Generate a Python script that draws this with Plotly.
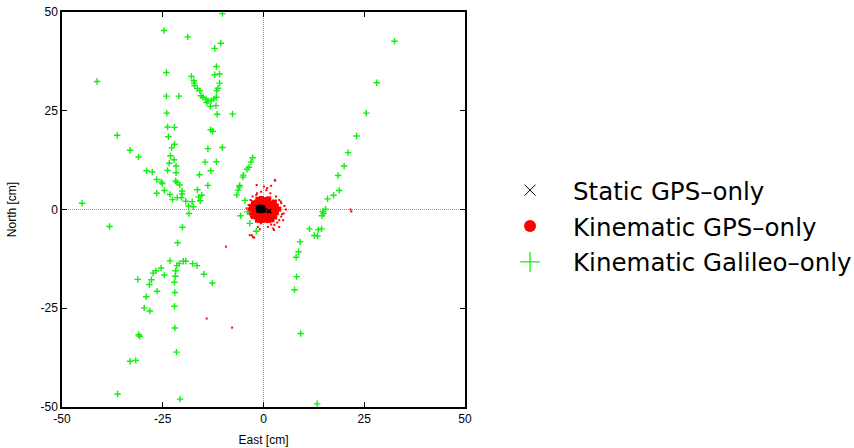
import plotly.graph_objects as go

# Kinematic Galileo-only (East, North) [cm]
gal_e = [-10.2, -24.7, -18.8, -10.6, -12.1, -41.3, -24.1, -11.7, -12.1, -10.9,
         -17.9, -17.3, -17.2, -17.1, -16.4, -15.8, -10.9, -11.3, -11.6, -15.5,
         -15.0, -14.3, -13.8, -13.0, -12.3, -11.7, -14.1, -13.2, -11.8, -11.5,
         -24.1, -21.0, -7.7, -24.0, -23.8, -22.1, -36.3, -23.6, -13.1, -12.6,
         -33.1, -31.0, -22.8, -22.1, -13.8, -10.2, -23.1, -22.2, -23.4, -21.7,
         -21.7, -23.8, -14.5, -11.7, -29.0, -27.6, -13.1, -15.9, -26.5, -25.4,
         -25.1, -21.8, -21.4, -20.8, -13.8, -26.5, -24.6, -23.2, -20.2, -20.2,
         -16.4, -22.6, -21.4, -20.4, -19.3, -18.6, -17.4, -17.7, -16.1, -15.3,
         -15.7, -18.5, -45.0, -38.2, -20.1, -21.3, -2.7, -3.1, -3.6, -4.1,
         -5.0, -5.1, -5.9, -6.0, -6.3, -6.6, -4.6, -5.7, -3.4, -1.8,
         -4.0, -23.2, -21.5, -20.9, -19.9, -19.3, -17.6, -16.5, -14.8, -12.7,
         -25.4, -26.7, -27.4, -24.6, -21.8, -21.9, -22.1, -31.2, -27.8, -28.3,
         -26.4, -22.0, -29.1, -22.1, -29.6, -28.2, -22.0, -31.0, -30.7, -21.6,
         -33.1, -31.7, -36.2, -20.7, 32.5, 28.1, 25.5, 23.1, 21.0, 20.0,
         18.5, 18.8, 17.4, 15.9, 15.4, 14.7, 14.9, 14.5, 11.4, 13.6,
         14.4, 12.6, 13.4, 9.1, 8.7, 8.1, 8.2, 7.7, 9.2, 13.3]
gal_n = [49.6, 45.3, 43.7, 42.1, 40.8, 32.4, 34.7, 36.2, 34.1, 34.3,
         33.7, 32.6, 32.0, 31.4, 30.6, 30.1, 32.0, 30.7, 30.1, 28.8,
         28.4, 28.0, 27.5, 27.6, 28.0, 28.4, 27.1, 26.1, 26.3, 24.1,
         28.7, 28.7, 24.2, 24.4, 20.9, 20.8, 18.8, 18.4, 20.2, 19.8,
         15.0, 13.3, 15.6, 16.5, 15.4, 15.7, 13.6, 12.6, 11.7, 11.0,
         9.3, 9.9, 12.0, 12.1, 9.8, 9.5, 9.8, 8.8, 7.6, 7.0,
         6.6, 7.2, 6.8, 6.2, 6.1, 4.1, 4.8, 3.8, 4.7, 4.0,
         5.0, 2.5, 3.0, 3.0, 2.1, 0.9, 0.7, 2.0, 3.2, 3.6,
         2.2, -1.0, 1.6, -4.3, -4.5, -8.4, 13.1, 12.0, 10.7, 10.2,
         8.7, 8.2, 6.1, 5.7, 4.9, 3.7, 2.3, -1.6, -3.5, -5.5,
         -0.6, -13.0, -14.2, -13.7, -13.1, -13.1, -13.7, -14.2, -16.4, -18.6,
         -14.8, -15.5, -16.1, -16.6, -15.5, -16.9, -18.4, -17.7, -17.8, -19.0,
         -20.7, -21.0, -22.1, -24.5, -24.9, -25.7, -30.0, -31.7, -32.1, -36.1,
         -38.4, -38.2, -46.7, -48.0, 42.6, 32.1, 24.4, 18.6, 14.4, 11.0,
         8.6, 4.8, 3.6, 2.7, 0.1, -0.5, -1.0, -1.6, -4.9, -5.1,
         -4.9, -6.6, -6.7, -8.2, -10.7, -12.1, -17.0, -20.3, -31.4, -49.2]

# Kinematic GPS-only: dense core of the cloud
gps_core_e = [-1.4, -0.5, 0.4, 1.3,
              -2.5, -1.6, -0.7, 0.2, 1.1, 2.0, 2.7,
              -3.0, -2.1, -1.2, -0.3, 0.6, 1.5, 2.4, 3.2,
              -3.3, -2.4, -1.5, -0.6, 0.3, 1.2, 2.1, 3.0, 3.8,
              -3.0, -2.2, -1.3, -0.4, 0.5, 1.4, 2.3, 3.2,
              -2.5, -1.6, -0.7, 0.2, 1.1, 2.0, 2.8,
              -1.5, -0.6, 0.3, 1.2, 2.1]
gps_core_n = [2.6, 2.8, 2.5, 2.7,
              1.7, 1.9, 1.6, 1.8, 1.9, 1.6, 1.9,
              0.8, 1.0, 0.7, 0.9, 0.8, 1.0, 0.7, 0.9,
              -0.1, 0.1, -0.1, 0.0, 0.1, -0.1, 0.1, -0.2, 0.1,
              -0.9, -1.0, -0.8, -0.9, -1.0, -0.8, -1.0, -0.8,
              -1.8, -1.9, -1.7, -1.8, -1.9, -1.7, -1.9,
              -2.7, -2.8, -2.6, -2.8, -2.6]
# Kinematic GPS-only: scattered epochs
gps_e = [2.9, 0.1, 0.9, 1.9, -0.6, -1.6, 1.7, 3.1, 3.9, 4.4,
         5.2, 5.6, 5.0, 4.4, 3.9, 3.4, 2.7, 1.9, 1.1, 0.2,
         -0.6, -1.4, -2.2, -3.1, -3.5, -3.7, -3.2, -2.7, -1.8, -2.9,
         -2.3, 2.6, 3.9, -1.4, -1.7, 2.8, 4.3, 4.9, 2.4, -3.4,
         -2.6, -9.3, -14.1, -7.8, 21.6, 21.8, -4.2, 4.6, -0.9, 0.7]
gps_n = [7.3, 5.8, 5.4, 6.0, 4.5, 4.1, 4.1, 3.3, 2.4, 1.6,
         0.9, 0.0, -1.0, -1.8, -2.7, -3.3, -3.9, -3.8, -4.4, -3.1,
         -3.5, -2.7, -2.2, -1.8, -1.0, 1.1, 2.4, 3.3, 3.7, -6.5,
         -7.1, -5.2, -4.4, -4.4, 6.2, 7.5, 2.0, -2.7, -4.8, -6.5,
         -7.0, -9.4, -27.6, -29.9, 0.0, -0.5, 0.3, -1.2, -5.0, 4.9]

# Static GPS-only
stat_e = [-1.4, -1.0, -0.5, -0.1, -1.3, -0.9, -0.4, 0.0, -1.2, -0.7, -0.2, 0.3, 1.4]
stat_n = [0.6, 0.7, 0.6, 0.5, 0.1, 0.2, 0.1, 0.0, -0.3, -0.4, -0.3, -0.2, -0.4]

tick_vals = [-50, -25, 0, 25, 50]
tick_text = ["-50", "-25", "0", "25", "50"]

names = ["Static GPS\u2013only", "Kinematic GPS\u2013only", "Kinematic Galileo\u2013only"]

GREEN = "#11ee11"
RED = "#ff0000"

fig = go.Figure()
fig.add_trace(go.Scatter(x=gps_core_e, y=gps_core_n, mode="markers", showlegend=False,
                         marker=dict(symbol="square", size=5, color=RED, line=dict(width=0))))
fig.add_trace(go.Scatter(x=gps_e, y=gps_n, mode="markers", showlegend=False,
                         marker=dict(symbol="square", size=2, color=RED, line=dict(width=0))))
fig.add_trace(go.Scatter(x=gal_e, y=gal_n, mode="markers", showlegend=False,
                         marker=dict(symbol="cross-thin", size=4.6, color=GREEN,
                                     line=dict(width=1.4, color=GREEN))))
fig.add_trace(go.Scatter(x=stat_e, y=stat_n, mode="markers", showlegend=False,
                         marker=dict(symbol="x-thin", size=4, color="black",
                                     line=dict(width=1.6, color="black"))))

# legend entries
fig.add_trace(go.Scatter(x=[None], y=[None], mode="markers", name=names[0], legendgroup="a",
                         marker=dict(symbol="x-thin", size=11, color="black",
                                     line=dict(width=1, color="black"))))
fig.add_trace(go.Scatter(x=[None], y=[None], mode="markers", name=names[1], legendgroup="b",
                         marker=dict(symbol="circle", size=12, color=RED)))
fig.add_trace(go.Scatter(x=[None], y=[None], mode="markers", name=names[2], legendgroup="c",
                         marker=dict(symbol="cross-thin", size=14, color=GREEN,
                                     line=dict(width=1.3, color=GREEN))))

axis_common = dict(range=[-50, 50], tickvals=tick_vals, ticktext=tick_text,
                   showgrid=False, zeroline=False, showline=True, mirror="ticks",
                   linecolor="black", linewidth=1.5, ticks="inside", ticklen=5,
                   tickcolor="black", tickwidth=1, automargin=False,
                   tickfont=dict(family="Liberation Sans, Arial", size=12, color="black"))

fig.update_layout(
    width=854, height=448, autosize=False,
    margin=dict(l=62, r=389, t=12, b=41),
    paper_bgcolor="white", plot_bgcolor="white",
    xaxis=dict(axis_common, title=dict(text="East [cm]", standoff=10,
               font=dict(family="Liberation Sans, Arial", size=12, color="black"))),
    yaxis=dict(axis_common, title=dict(text="North [cm]", standoff=21,
               font=dict(family="Liberation Sans, Arial", size=12, color="black"))),
    legend=dict(xref="container", yref="container", x=0.5703, y=0.495,
                xanchor="left", yanchor="middle",
                font=dict(family="DejaVu Sans", size=24.5, color="black"),
                itemwidth=76, tracegroupgap=1, bgcolor="rgba(0,0,0,0)"),
    shapes=[
        dict(type="line", xref="x", yref="paper", x0=0, x1=0, y0=0, y1=1,
             line=dict(color="#999999", width=1, dash="1px,1px"), layer="below"),
        dict(type="line", xref="paper", yref="y", x0=0, x1=1, y0=0, y1=0,
             line=dict(color="#999999", width=1, dash="1px,1px"), layer="below"),
    ],
)

fig.write_html("out.html", config={"displayModeBar": False},
               post_script="document.body.style.margin='0';document.body.style.overflow='hidden';")
